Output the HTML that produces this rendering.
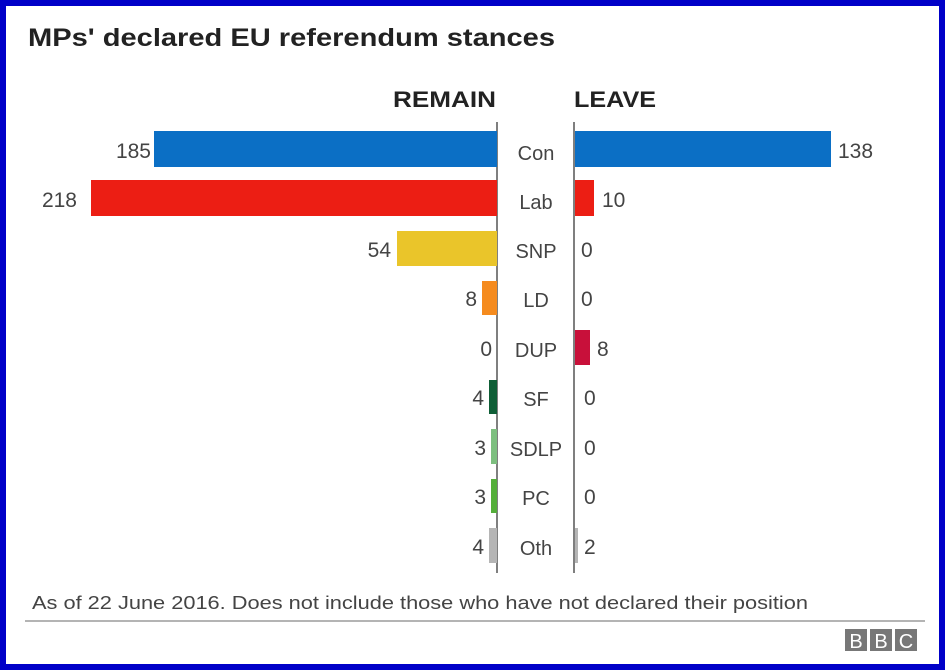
<!DOCTYPE html>
<html><head><meta charset="utf-8"><style>
html,body{margin:0;padding:0;background:#fff;}
svg{display:block;font-family:"Liberation Sans",Arial,sans-serif;}
</style></head><body>
<svg width="945" height="670" viewBox="0 0 945 670" xmlns="http://www.w3.org/2000/svg">
<rect x="0" y="0" width="945" height="670" fill="#0000c8"/>
<rect x="6" y="6" width="933" height="658" fill="#fff"/>
<text x="28" y="46" font-size="25" font-weight="bold" fill="#222" textLength="527" lengthAdjust="spacingAndGlyphs">MPs' declared EU referendum stances</text>
<text x="393" y="107" font-size="22" font-weight="bold" fill="#222" textLength="103" lengthAdjust="spacingAndGlyphs">REMAIN</text>
<text x="574" y="107" font-size="22" font-weight="bold" fill="#222" textLength="82" lengthAdjust="spacingAndGlyphs">LEAVE</text>
<line x1="497" y1="122" x2="497" y2="573" stroke="#555" stroke-width="1.5"/>
<line x1="574" y1="122" x2="574" y2="573" stroke="#555" stroke-width="1.5"/>
<g font-size="21" fill="#444">
<rect x="154" y="131" width="343" height="36" fill="#0b6fc5"/>
<rect x="575" y="131" width="256" height="36" fill="#0b6fc5"/>
<text x="151" y="158" text-anchor="end">185</text>
<text x="536" y="160" text-anchor="middle" font-size="20">Con</text>
<text x="838" y="158">138</text>
<rect x="91" y="180" width="406" height="36" fill="#ec1e14"/>
<rect x="575" y="180" width="19" height="36" fill="#ec1e14"/>
<text x="77" y="207" text-anchor="end">218</text>
<text x="536" y="209" text-anchor="middle" font-size="20">Lab</text>
<text x="602" y="207">10</text>
<rect x="397" y="231" width="100" height="35" fill="#eac52a"/>
<text x="391" y="257" text-anchor="end">54</text>
<text x="536" y="258" text-anchor="middle" font-size="20">SNP</text>
<text x="581" y="257">0</text>
<rect x="482" y="281" width="15" height="34" fill="#f58b1e"/>
<text x="477" y="306" text-anchor="end">8</text>
<text x="536" y="307" text-anchor="middle" font-size="20">LD</text>
<text x="581" y="306">0</text>
<rect x="575" y="330" width="15" height="35" fill="#c8103a"/>
<text x="492" y="356" text-anchor="end">0</text>
<text x="536" y="357" text-anchor="middle" font-size="20">DUP</text>
<text x="597" y="356">8</text>
<rect x="489" y="380" width="8" height="34" fill="#0f5e36"/>
<text x="484" y="405" text-anchor="end">4</text>
<text x="536" y="406" text-anchor="middle" font-size="20">SF</text>
<text x="584" y="405">0</text>
<rect x="491" y="429" width="6" height="35" fill="#7dbf7f"/>
<text x="486" y="455" text-anchor="end">3</text>
<text x="536" y="456" text-anchor="middle" font-size="20">SDLP</text>
<text x="584" y="455">0</text>
<rect x="491" y="479" width="6" height="34" fill="#54ae3a"/>
<text x="486" y="504" text-anchor="end">3</text>
<text x="536" y="505" text-anchor="middle" font-size="20">PC</text>
<text x="584" y="504">0</text>
<rect x="489" y="528" width="8" height="35" fill="#b5b5b5"/>
<rect x="575" y="528" width="3" height="35" fill="#b5b5b5"/>
<text x="484" y="554" text-anchor="end">4</text>
<text x="536" y="555" text-anchor="middle" font-size="20">Oth</text>
<text x="584" y="554">2</text>
</g>
<text x="32" y="609" font-size="18" fill="#444" textLength="776" lengthAdjust="spacingAndGlyphs">As of 22 June 2016. Does not include those who have not declared their position</text>
<line x1="25" y1="621" x2="925" y2="621" stroke="#888" stroke-width="1.2"/>
<g font-size="20" fill="#fff" text-anchor="middle">
<rect x="845" y="629" width="22" height="22" fill="#777"/>
<rect x="870" y="629" width="22" height="22" fill="#777"/>
<rect x="895" y="629" width="22" height="22" fill="#777"/>
<text x="856" y="648">B</text>
<text x="881" y="648">B</text>
<text x="906" y="648">C</text>
</g>
</svg>
</body></html>
